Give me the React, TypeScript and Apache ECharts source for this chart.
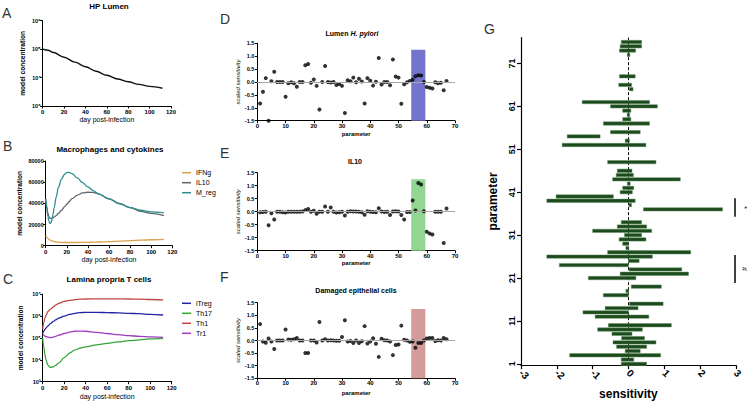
import React, { useEffect, useRef } from 'react';
import * as echarts from 'echarts';

const FONT = '"Liberation Sans", Arial, Helvetica, sans-serif';

// ---------- Panel A: HP Lumen ----------
const daysA = [0, 5, 10, 20, 30, 40, 50, 60, 70, 80, 90, 100, 112];
const hpLumen = [1.0e8, 9.1e7, 7.6e7, 5.2e7, 3.5e7, 2.4e7, 1.66e7, 1.2e7, 8.9e6, 7.1e6, 5.75e6, 4.9e6, 4.2e6];

// ---------- Panel B: Macrophages and cytokines ----------
const daysB = [0, 1, 2, 3, 4, 5, 6, 7, 8, 10, 12, 15, 18, 20, 22, 25, 30, 35, 40, 45, 50, 60, 70, 80, 90, 100, 112];
const ifng = [9000, 8000, 7000, 6200, 5500, 4900, 4500, 4200, 3900, 3500, 3300, 3100, 3000, 3000, 3000, 3000, 3000, 3100, 3200, 3300, 3500, 3900, 4300, 4800, 5200, 5600, 6000];
const il10 = [44000, 37000, 31000, 27500, 26000, 25800, 26000, 26500, 27000, 28500, 30500, 33500, 37000, 39000, 41500, 44500, 47800, 49800, 50500, 50300, 49000, 44500, 40000, 36000, 32500, 30500, 28500];
const mReg = [44000, 36000, 28000, 23000, 21000, 21500, 25000, 30000, 36000, 46000, 55000, 63000, 67500, 69000, 69300, 68000, 64000, 59500, 55500, 52000, 49000, 44000, 39500, 36000, 33500, 32000, 31000];

// ---------- Panel C: Lamina propria T cells ----------
const daysC = [0, 1, 2, 3, 5, 7, 10, 12, 15, 20, 25, 30, 35, 40, 50, 60, 70, 80, 90, 100, 112];
const iTreg = [1.6e5, 2.0e5, 2.4e5, 2.8e5, 3.5e5, 4.5e5, 5.6e5, 6.6e5, 7.9e5, 9.8e5, 1.17e6, 1.32e6, 1.41e6, 1.45e6, 1.45e6, 1.41e6, 1.38e6, 1.32e6, 1.26e6, 1.17e6, 1.1e6];
const th17 = [1.0e5, 4.0e4, 1.8e4, 1.0e4, 5.6e3, 4.5e3, 4.8e3, 5.5e3, 7.2e3, 1.26e4, 2.0e4, 2.8e4, 3.4e4, 3.9e4, 4.8e4, 5.6e4, 6.5e4, 7.4e4, 8.1e4, 8.9e4, 9.5e4];
const th1 = [2.5e5, 5.0e5, 7.9e5, 1.05e6, 1.6e6, 2.0e6, 2.6e6, 3.1e6, 3.7e6, 4.6e6, 5.1e6, 5.5e6, 5.8e6, 5.9e6, 6.0e6, 6.0e6, 6.0e6, 5.9e6, 5.8e6, 5.6e6, 5.4e6];
const tr1 = [1.41e5, 1.32e5, 1.2e5, 1.15e5, 1.07e5, 1.02e5, 1.07e5, 1.17e5, 1.32e5, 1.58e5, 1.82e5, 2.0e5, 2.04e5, 2.0e5, 1.78e5, 1.58e5, 1.41e5, 1.26e5, 1.17e5, 1.1e5, 1.05e5];

// ---------- Panels D, E, F: scaled sensitivity per parameter (1..67) ----------
const lumenHp = [-0.83, -0.38, 0.15, -1.5, 0.03, 0.4, 0, 0, 0, -0.57, -0.05, -0.01, -0.05, -0.18, 0, 0, 0.65, 0.7, -0.03, 0.1, -0.15, -1.07, 0, 0.62, 0, -0.02, 0, -0.12, -0.08, -0.15, -1.2, 0.07, 0.03, 0.17, -0.01, 0.13, 0.02, -0.83, 0.15, 0.05, -0.14, 0.01, 0.93, -0.1, 0, 0, -0.13, 0.87, 0.21, 0.17, -0.84, -0.09, -0.01, 0.04, 0.09, 0.22, 0.26, 0.25, 0, -0.19, -0.22, -0.25, -0.01, -0.05, -0.03, -0.32, 0.04];
const il10Sens = [-0.02, -0.01, 0, -0.52, -0.06, -0.3, 0, 0, -0.02, -0.03, 0, 0, 0, 0, 0, 0.01, 0.06, 0.1, 0, 0.04, -0.08, 0, 0, 0.2, 0, 0.16, 0, -0.03, -0.02, 0, -0.15, 0, 0.02, 0.01, 0.01, 0, -0.02, -0.12, 0.02, 0, -0.01, -0.02, 0.13, 0.01, -0.01, 0, -0.13, 0.01, 0.02, 0.01, -0.13, -0.3, -0.01, -0.01, 0.43, 0.05, 1.1, 1.05, 0.02, -0.77, -0.84, -0.88, 0, 0, 0, -1.2, 0.12];
const damagedEpi = [0.65, -0.04, -0.09, 0.08, -0.04, -0.34, 0, 0, 0, 0.44, 0.04, 0.03, 0.05, 0.1, 0, 0, -0.5, -0.5, 0, 0, -0.08, 0.73, 0, 0.05, 0, 0.01, 0, -0.01, -0.01, 0.14, 0.8, -0.04, -0.02, -0.1, 0, -0.1, -0.03, 0.57, -0.12, -0.04, 0.09, -0.13, -0.65, 0.07, 0.01, 0, -0.04, -0.58, -0.18, -0.16, 0.59, 0.03, 0, -0.05, -0.04, -0.29, -0.1, -0.1, 0, 0.08, 0.1, 0.1, -0.02, 0.01, 0, 0.1, 0.05];
const highlightRange = [54.5, 59.5];
const highlightTop = 1.25;

// ---------- Panel G: sensitivity ranges per parameter ----------
const gParam = [1, 2, 3, 4, 5, 6, 7, 8, 9, 10, 12, 13, 14, 15, 17, 18, 19, 21, 22, 23, 24, 25, 26, 27, 28, 29, 30, 31, 32, 33, 34, 37, 38, 39, 40, 41, 42, 43, 44, 45, 46, 48, 52, 53, 54, 55, 57, 58, 59, 60, 61, 62, 65, 66, 68, 73, 74, 75, 76];
const gLow = [-0.2, -0.2, -1.64, -0.09, -0.33, -0.43, -0.19, -0.46, -0.86, -0.56, -0.93, -1.27, -0.65, 0.03, -0.7, -0.07, 0.08, -1.12, -0.23, 0.02, -1.93, 0, -2.28, -0.58, -0.07, -0.16, -0.26, -0.11, -1.0, -0.31, -0.2, 0.42, 0.02, -2.28, -2.02, -0.23, -0.16, -0.03, -0.44, -0.34, -0.31, -0.58, -1.85, -0.09, -1.71, -0.5, -0.7, -0.16, -0.03, -0.16, -0.5, -1.29, 0.03, -0.27, -0.25, -0.02, -0.25, -0.23, -0.2];
const gHigh = [0.51, 0.15, 0.9, 0.33, 0.51, 0.77, 0.45, 0.1, 0.39, 1.2, 0.57, 0, 0.27, 0.97, 0, 0.01, 0.92, 0.21, 1.68, 1.49, 0, 0.3, 0.67, 1.74, 0.01, 0, 0.49, 0.37, 0.65, 0.51, 0.37, 2.63, 0.08, 0.19, -0.42, 0.11, 0.15, 0.05, 1.45, 0.14, 0.1, 0.77, 0.49, 0.03, -0.79, 0.33, 0.59, 0.07, 0.03, 0.07, 0.81, 0.59, 0.13, 0.09, 0.19, 0.03, 0.2, 0.37, 0.37];
const gTicks = [1, 11, 21, 31, 41, 51, 61, 71];

const SUP: Record<string, string> = { '0': '⁰', '1': '¹', '2': '²', '3': '³', '4': '⁴', '5': '⁵', '6': '⁶', '7': '⁷', '8': '⁸', '9': '⁹' };
const logFmt = (v: number) => '10' + String(Math.round(Math.log10(v))).split('').map((c) => SUP[c]).join('');

const pairs = (xs: number[], ys: number[]) => xs.map((x, i) => [x, ys[i]]);
const byParam = (ys: number[]) => ys.map((y, i) => [i + 1, y]);

function baseAxis(gridIndex: number, labelSize: number, nameSize: number, extra: any = {}) {
  return {
    gridIndex,
    axisLine: { show: true, onZero: false, lineStyle: { color: '#000', width: 1 } },
    axisTick: { show: true, length: 2.5, lineStyle: { color: '#000', width: 1 } },
    axisLabel: { color: '#000', fontSize: labelSize, fontWeight: 'bold', fontFamily: FONT, margin: 3 },
    splitLine: { show: false },
    nameLocation: 'middle',
    nameTextStyle: { color: '#000', fontSize: nameSize, fontFamily: FONT },
    ...extra,
  };
}

function buildOption(): any {
  const grids = [
    { left: 42.7, top: 20.7, width: 128.3, height: 85.3 },
    { left: 45.7, top: 161, width: 126.6, height: 84.7 },
    { left: 42.7, top: 294, width: 129, height: 87.7 },
    { left: 257.3, top: 43.3, width: 197.7, height: 77.4 },
    { left: 257.3, top: 172.7, width: 197.7, height: 78 },
    { left: 257.3, top: 302.7, width: 197.7, height: 75.6 },
    { left: 521, top: 37.7, width: 214.8, height: 330.6 },
  ];

  const dayAxis = (g: number, gap: number) =>
    baseAxis(g, 6, 7, { type: 'value', min: 0, max: 120, interval: 20, name: 'day post-infection', nameGap: gap });
  const paramAxis = (g: number, gap: number) =>
    baseAxis(g, 6, 6, {
      type: 'value', min: 0, max: 70, interval: 10, name: 'parameter', nameGap: gap,
      nameTextStyle: { color: '#000', fontSize: 6, fontWeight: 'bold', fontFamily: FONT },
      axisLabel: { color: '#000', fontSize: 6, fontWeight: 'bold', fontFamily: FONT, margin: 2 },
    });
  const sensAxis = (g: number) =>
    baseAxis(g, 5.5, 6, {
      type: 'value', min: -1.5, max: 1.5, interval: 0.5, name: 'scaled sensitivity', nameGap: 14,
      nameTextStyle: { color: '#000', fontSize: 6, fontStyle: 'italic', fontFamily: FONT },
      axisLabel: { color: '#000', fontSize: 5.5, fontWeight: 'bold', fontFamily: FONT, margin: 3, formatter: (v: number) => v.toFixed(1) },
    });
  const concName = { color: '#000', fontSize: 6.6, fontWeight: 'bold', fontFamily: FONT };

  const xAxis = [
    dayAxis(0, 9),
    dayAxis(1, 10),
    dayAxis(2, 11.5),
    paramAxis(3, 10),
    paramAxis(4, 9.5),
    paramAxis(5, 12),
    baseAxis(6, 10, 12, {
      type: 'value', min: -3, max: 3, interval: 1, name: 'sensitivity', nameGap: 20,
      nameTextStyle: { color: '#000', fontSize: 12, fontWeight: 'bold', fontFamily: FONT },
      axisTick: { show: true, length: 4, lineStyle: { color: '#000', width: 1.2 } },
      axisLine: { show: true, onZero: false, lineStyle: { color: '#000', width: 1.2 } },
      axisLabel: { color: '#000', fontSize: 10, fontWeight: 'bold', fontFamily: FONT, margin: 6, rotate: -45 },
    }),
  ];

  const yAxis = [
    baseAxis(0, 5.5, 7, { type: 'log', logBase: 10, min: 1e6, max: 1e9, name: 'model concentration', nameGap: 16.5, nameTextStyle: concName,
      axisLabel: { color: '#000', fontSize: 5.5, fontWeight: 'bold', fontFamily: FONT, margin: 2, formatter: logFmt } }),
    baseAxis(1, 5.5, 7, { type: 'value', min: 0, max: 80000, interval: 20000, name: 'model concentration', nameGap: 22.5, nameTextStyle: concName,
      axisLabel: { color: '#000', fontSize: 5.5, fontWeight: 'bold', fontFamily: FONT, margin: 2, formatter: (v: number) => String(v) } }),
    baseAxis(2, 5.5, 7, { type: 'log', logBase: 10, min: 1e3, max: 1e7, name: 'model concentration', nameGap: 18.5, nameTextStyle: concName,
      axisLabel: { color: '#000', fontSize: 5.5, fontWeight: 'bold', fontFamily: FONT, margin: 2, formatter: logFmt } }),
    sensAxis(3),
    sensAxis(4),
    sensAxis(5),
    baseAxis(6, 9, 12, {
      type: 'value', min: 0.7, max: 77, name: 'parameter', nameGap: 22,
      nameTextStyle: { color: '#000', fontSize: 12, fontWeight: 'bold', fontFamily: FONT },
      axisLine: { show: true, onZero: false, lineStyle: { color: '#000', width: 1.2 } },
      axisTick: { show: true, length: 4, customValues: gTicks, lineStyle: { color: '#000', width: 1.2 } },
      axisLabel: { color: '#000', fontSize: 9, fontWeight: 'bold', fontFamily: FONT, margin: 5, rotate: 90, customValues: gTicks },
    }),
  ];

  const line = (name: string, xi: number, data: any[], color: string, width = 1.3) => ({
    name, type: 'line', xAxisIndex: xi, yAxisIndex: xi, data, showSymbol: false, symbol: 'none',
    smooth: 0.35, smoothMonotone: 'x', lineStyle: { color, width }, itemStyle: { color }, z: 3,
  });

  const scatter = (idx: number, vals: number[], areaColor: string) => ({
    type: 'scatter', xAxisIndex: idx, yAxisIndex: idx, data: byParam(vals), symbolSize: 4,
    itemStyle: { color: '#000' }, z: 4,
    markArea: { silent: true, itemStyle: { color: areaColor, opacity: 1 },
      data: [[{ xAxis: highlightRange[0], yAxis: -1.5 }, { xAxis: highlightRange[1], yAxis: highlightTop }]] },
    markLine: { silent: true, symbol: 'none', label: { show: false }, lineStyle: { color: '#a8a8a8', width: 1, type: 'solid' },
      data: [{ yAxis: 0 }] },
  });

  const gData = gParam.map((p, i) => [p, gLow[i], gHigh[i]]);

  const series: any[] = [
    line('HP', 0, pairs(daysA, hpLumen), '#111', 1.4),
    line('IFNg', 1, pairs(daysB, ifng), '#d9a24e'),
    line('IL10', 1, pairs(daysB, il10), '#5d666e'),
    line('M_reg', 1, pairs(daysB, mReg), '#2f8c8c'),
    line('iTreg', 2, pairs(daysC, iTreg), '#2323a6'),
    line('Th17', 2, pairs(daysC, th17), '#35a535'),
    line('Th1', 2, pairs(daysC, th1), '#c04646'),
    line('Tr1', 2, pairs(daysC, tr1), '#9c3cbf'),
    scatter(3, lumenHp, '#7474cc'),
    scatter(4, il10Sens, '#93d693'),
    scatter(5, damagedEpi, '#d49b9b'),
    {
      type: 'scatter', xAxisIndex: 6, yAxisIndex: 6, data: [], z: 1,
      markLine: { silent: true, symbol: 'none', label: { show: false },
        lineStyle: { color: '#000', width: 1, type: [3, 2] }, data: [{ xAxis: 0 }] },
    },
    {
      type: 'custom', xAxisIndex: 6, yAxisIndex: 6, data: gData, z: 5,
      encode: { x: [1, 2], y: 0 },
      renderItem: (params: any, api: any) => {
        const p = api.value(0);
        const s = api.coord([api.value(1), p]);
        const e = api.coord([api.value(2), p]);
        const h = api.size([0, 1])[1] * 0.78;
        const w = Math.max(e[0] - s[0], 2.6);
        const x0 = e[0] - s[0] < 2.6 ? (s[0] + e[0]) / 2 - 1.3 : s[0];
        return {
          type: 'rect',
          shape: { x: x0, y: s[1] - h / 2, width: w, height: h },
          style: { fill: '#1d4a1d', stroke: '#5e8f5e', lineWidth: 0.5 },
        };
      },
    },
  ];

  const legendText = { color: '#000', fontSize: 7, fontFamily: FONT, lineHeight: 8 };
  const legend = [
    { data: ['IFNg', 'IL10', 'M_reg'], orient: 'vertical', left: 182, top: 168.7, itemWidth: 9, itemHeight: 1.5, itemGap: 2, padding: 0, icon: 'rect', textStyle: legendText, selectedMode: false },
    { data: ['iTreg', 'Th17', 'Th1', 'Tr1'], orient: 'vertical', left: 182, top: 299.3, itemWidth: 9, itemHeight: 1.5, itemGap: 2, padding: 0, icon: 'rect', textStyle: legendText, selectedMode: false },
  ];

  const txt = (text: string, x: number, y: number, size: number, weight = 'bold', extra: any = {}) => ({
    type: 'text', x, y, silent: true,
    style: { text, fill: '#000', fontSize: size, fontWeight: weight, fontFamily: FONT, align: 'center', verticalAlign: 'middle', ...extra },
  });
  const letter = (t: string, x: number, y: number) => txt(t, x, y, 14, 'normal', { fill: '#333', align: 'left', verticalAlign: 'top' });

  const graphic = [
    letter('A', 2, 6),
    letter('B', 3, 139),
    letter('C', 3, 272),
    letter('D', 220, 12),
    letter('E', 220, 146),
    letter('F', 220, 270),
    letter('G', 484, 22),
    txt('HP Lumen', 109, 6.5, 8),
    txt('Macrophages and cytokines', 110, 149, 8),
    txt('Lamina propria T cells', 109, 279, 8),
    {
      type: 'text', x: 352, y: 33, silent: true,
      style: {
        text: '{b|Lumen }{i|H. pylori}', align: 'center', verticalAlign: 'middle',
        rich: {
          b: { fill: '#000', fontSize: 7, fontWeight: 'bold', fontFamily: FONT },
          i: { fill: '#000', fontSize: 7, fontWeight: 'bold', fontStyle: 'italic', fontFamily: FONT },
        },
      },
    },
    txt('IL10', 355, 161.7, 7),
    txt('Damaged epithelial cells', 356, 290.7, 7),
    { type: 'line', silent: true, shape: { x1: 735, y1: 198.3, x2: 735, y2: 216.7 }, style: { stroke: '#000', lineWidth: 1.5 } },
    { type: 'line', silent: true, shape: { x1: 735, y1: 255, x2: 735, y2: 283 }, style: { stroke: '#000', lineWidth: 1.5 } },
    { ...txt('*', 744, 207.5, 8, 'normal'), rotation: -Math.PI / 2 },
    { ...txt('#', 744, 269, 7, 'normal'), rotation: -Math.PI / 2 },
  ];

  return {
    animation: false,
    backgroundColor: '#fff',
    grid: grids,
    xAxis,
    yAxis,
    legend,
    series,
    graphic,
  };
}

export default function App() {
  const ref = useRef<HTMLDivElement>(null);
  useEffect(() => {
    if (!ref.current) return;
    const chart = echarts.init(ref.current, null, { renderer: 'svg' });
    chart.setOption(buildOption());
    return () => chart.dispose();
  }, []);
  return (
    <div
      ref={ref}
      style={{ position: 'fixed', left: 0, top: 0, width: 750, height: 405, background: '#fff' }}
    />
  );
}
